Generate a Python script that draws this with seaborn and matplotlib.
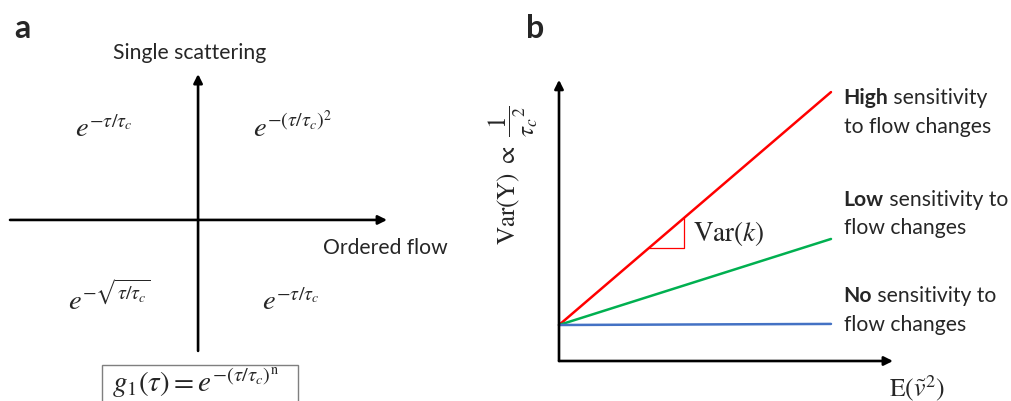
import matplotlib
matplotlib.use("Agg")
import matplotlib.pyplot as plt
import seaborn as sns
import pandas as pd
import numpy as np
from matplotlib.patches import Rectangle

# ---------------- data ----------------
sensitivity = ["High", "Low", "No"]
start_x = 0.0
end_x = 1.0
intercept = 1.0
end_y = [7.47, 3.39, 1.03]          # value of each line at x = 1
line_colors = ["#FF0000", "#00B050", "#4472C4"]
label_rest = [" sensitivity", " sensitivity to", " sensitivity to"]
label_second = ["to flow changes", "flow changes", "flow changes"]
label_y = [6.93, 4.11, 1.42]

quad_formulas = [r"$e^{-\tau/\tau_c}$", r"$e^{-(\tau/\tau_c)^2}$",
                 r"$e^{-\sqrt{\tau/\tau_c}}$", r"$e^{-\tau/\tau_c}$"]
quad_pos = [(-0.651, 0.444), (0.291, 0.444), (-0.688, -0.471), (0.339, -0.471)]
box_formula = r"$g_1(\tau) = e^{-(\tau/\tau_c)^{\mathrm{n}}}$"

# ---------------- style ----------------
sns.set_theme(style="white")
plt.rcParams["font.family"] = ["Lato", "DejaVu Sans"]
plt.rcParams["mathtext.fontset"] = "stix"

W, H = 1011, 402
fig = plt.figure(figsize=(W / 100, H / 100), dpi=100)

TXT = 15.2
arrow_kw = dict(arrowstyle="-|>", lw=1.9, color="black", mutation_scale=13,
                shrinkA=0, shrinkB=0)

# ---------------- panel a ----------------
axa = fig.add_axes([0, 0, 460 / W, 1])
axa.set_xlim(-1.048, 1.386)
axa.set_ylim(-0.958, 1.169)
axa.axis("off")
axa.annotate("", xy=(1.0, 0), xytext=(-0.995, 0), arrowprops=arrow_kw)
axa.annotate("", xy=(0, 0.772), xytext=(0, -0.693), arrowprops=arrow_kw)
axa.text(-0.042, 0.889, "Single scattering", ha="center", va="center", fontsize=TXT)
axa.text(0.661, -0.143, "Ordered flow", ha="left", va="center", fontsize=TXT)
for f, (x, y) in zip(quad_formulas, quad_pos):
    axa.text(x, y, f, ha="left", va="baseline", fontsize=20.5)
axa.add_patch(Rectangle((-0.508, -1.1), 1.037, 1.1 - 0.767, fill=False,
                        edgecolor="#7f7f7f", lw=1.0, clip_on=False))
axa.text(-0.455, -0.905, box_formula, ha="left", va="baseline", fontsize=21)

# ---------------- panel b ----------------
axb = fig.add_axes([559 / W, 40 / H, 341 / W, 287 / H])
axb.set_xlim(0, 1.2537)
axb.set_ylim(0, 7.972)
axb.axis("off")

df = pd.DataFrame({
    "x": [start_x, end_x] * len(sensitivity),
    "y": [v for e in end_y for v in (intercept, e)],
    "sensitivity": [s for s in sensitivity for _ in range(2)],
})
sns.lineplot(data=df, x="x", y="y", hue="sensitivity",
             palette=dict(zip(sensitivity, line_colors)), legend=False,
             lw=1.8, ax=axb, clip_on=False)

axb.annotate("", xy=(1.228, 0), xytext=(0, 0), arrowprops=arrow_kw,
             annotation_clip=False)
axb.annotate("", xy=(0, 7.81), xytext=(0, 0), arrowprops=arrow_kw,
             annotation_clip=False)

# slope triangle on the red line
slope = (end_y[0] - intercept) / (end_x - start_x)
tx0, tx1 = 0.331, 0.46
ty0, ty1 = intercept + slope * tx0, intercept + slope * tx1
axb.plot([tx0, tx1, tx1], [ty0, ty0, ty1], color=line_colors[0], lw=0.9)
axb.text(0.493, 3.58, r"$\mathrm{Var}(k)$", ha="left", va="center", fontsize=19.5)

LX = 1.046
for s, rest, second, y in zip(sensitivity, label_rest, label_second, label_y):
    t = axb.text(LX, y + 0.4, s, ha="left", va="center", fontsize=TXT,
                 fontweight="bold", clip_on=False)
    axb.annotate(rest, xy=(1, 0.5), xycoords=t, ha="left", va="center",
                 fontsize=TXT, annotation_clip=False)
    axb.text(LX, y - 0.4, second, ha="left", va="center", fontsize=TXT,
             clip_on=False)

axb.text(1.315, -0.72, r"$\mathrm{E}(\tilde{v}^2)$", ha="center", va="center",
         fontsize=18.5, clip_on=False)
axb.text(-0.169, 5.2, r"$\mathrm{Var(Y)}\ \propto\ \dfrac{1}{{\tau_c}^{2}}$",
         rotation=90, ha="center", va="center", fontsize=18, clip_on=False)

# panel letters
fig.text(22 / W, 1 - 28 / H, "a", ha="center", va="center", fontsize=23,
         fontweight="bold")
fig.text(535 / W, 1 - 28 / H, "b", ha="center", va="center", fontsize=23,
         fontweight="bold")

fig.savefig("out.png", dpi=100)
